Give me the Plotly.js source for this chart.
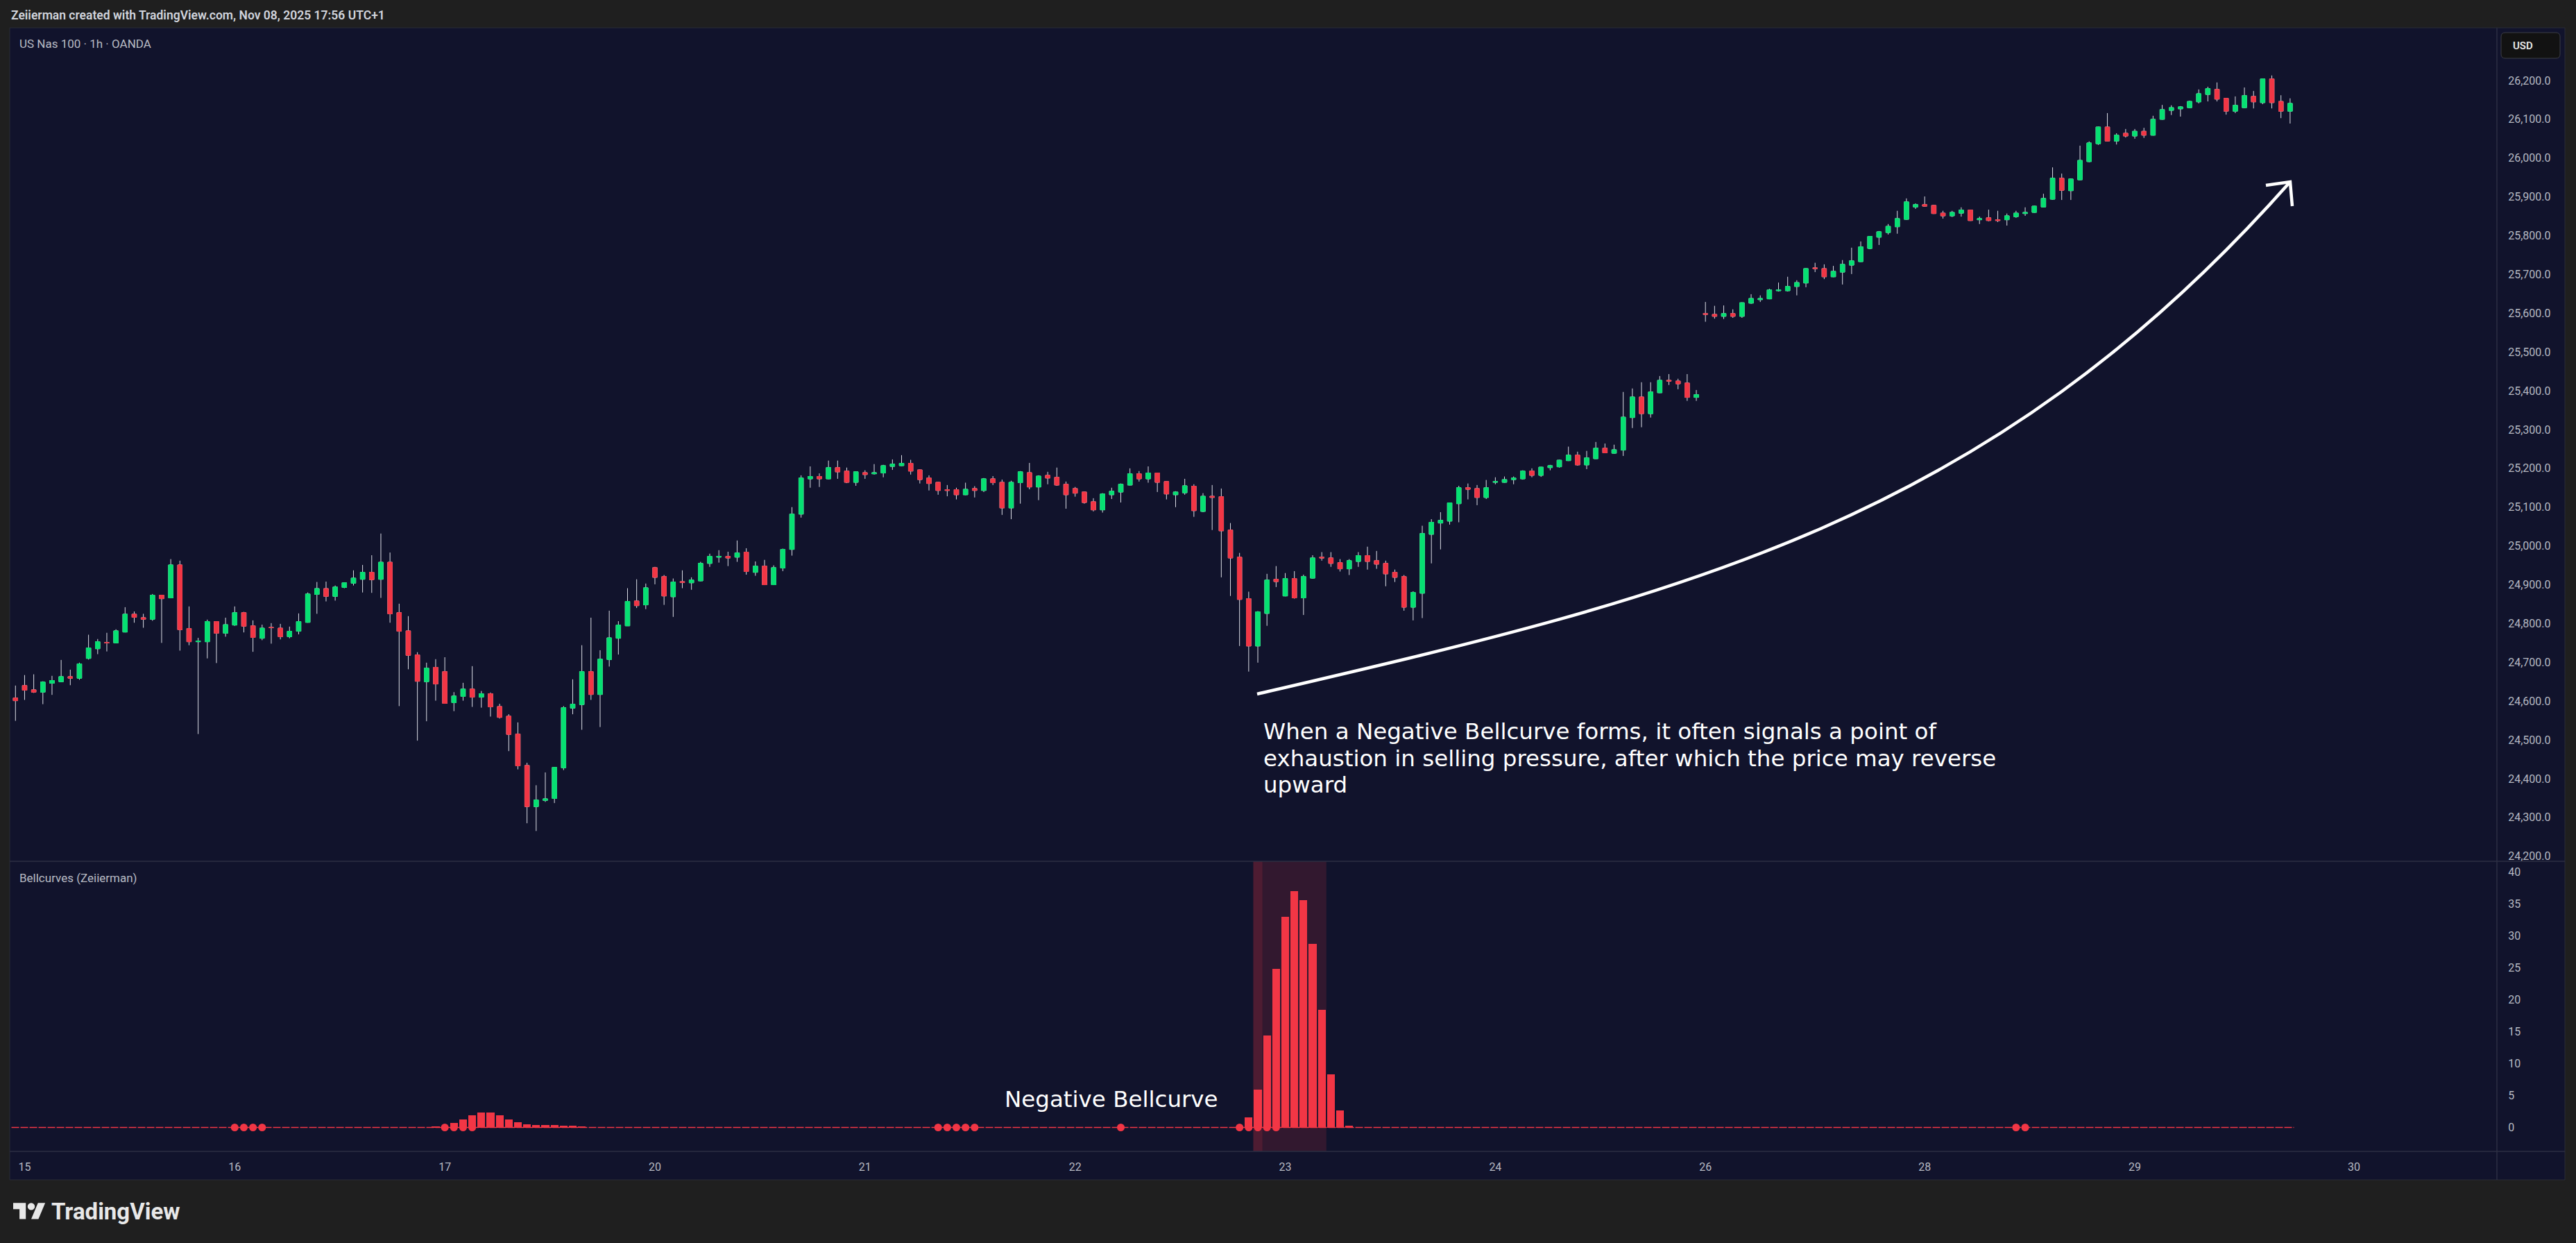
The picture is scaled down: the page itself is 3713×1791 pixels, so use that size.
<!DOCTYPE html>
<html>
<head>
<meta charset="utf-8">
<script src="https://cdn.plot.ly/plotly-3.0.1.min.js"></script>
<style>
html,body{margin:0;padding:0;background:#1f1f1f;}
#chart{width:3713px;height:1791px;}
</style>
</head>
<body>
<div id="chart"></div>
<script>
// ---------------- DATA ----------------
// US Nas 100, 1h candles, index 0..249
const openP = [
24608,24640,24629,24623,24646,24650,24663,24659,24710,24735,
24751,24750,24778,24824,24815,24811,24873,24866,24951,24787,
24753,24753,24805,24775,24796,24828,24794,24762,24790,24788,
24766,24780,24803,24875,24890,24870,24893,24904,24914,24932,
24914,24958,24828,24781,24719,24650,24687,24676,24596,24612,
24631,24610,24619,24586,24561,24515,24434,24328,24344,24349,
24428,24582,24591,24676,24617,24707,24762,24794,24858,24848,
24944,24921,24869,24908,24905,24910,24955,24971,24973,24971,
24984,24932,24948,24900,24943,24991,25082,25173,25179,25173,
25202,25193,25164,25189,25186,25188,25205,25207,25213,25196,
25175,25164,25145,25145,25132,25148,25143,25173,25164,25098,
25163,25189,25152,25182,25177,25159,25148,25139,25114,25093,
25132,25139,25157,25186,25173,25188,25166,25132,25137,25154,
25089,25128,25127,25041,24971,24864,24742,24826,24914,24871,
24916,24866,24917,24971,24969,24957,24941,24960,24975,24962,
24955,24932,24921,24842,24878,25030,25059,25064,25109,25150,
25148,25125,25164,25164,25171,25173,25193,25182,25202,25204,
25220,25234,25209,25225,25252,25239,25247,25331,25384,25341,
25395,25427,25425,25420,25383,25599,25597,25592,25599,25592,
25626,25635,25637,25658,25658,25669,25678,25717,25715,25694,
25706,25724,25733,25767,25796,25808,25823,25842,25874,25880,
25878,25858,25851,25858,25866,25841,25846,25841,25841,25849,
25857,25860,25874,25894,25948,25916,25944,25991,26037,26080,
26044,26064,26057,26069,26059,26100,26123,26127,26130,26145,
26164,26177,26154,26121,26130,26159,26143,26204,26146,26121
];
const highP = [
24640,24667,24669,24651,24665,24706,24681,24699,24771,24760,
24776,24785,24842,24831,24825,24876,24874,24966,24962,24844,
24763,24810,24806,24815,24844,24830,24808,24797,24801,24799,
24792,24826,24880,24907,24908,24898,24906,24937,24951,24976,
25032,24983,24851,24819,24726,24699,24708,24713,24623,24647,
24690,24626,24622,24593,24566,24545,24441,24383,24416,24430,
24587,24656,24744,24815,24731,24833,24806,24891,24914,24903,
24946,24925,24916,24937,24919,24959,24980,24989,24985,25014,
24994,24960,24964,24950,24993,25100,25182,25205,25187,25220,
25220,25202,25192,25195,25211,25209,25223,25234,25222,25197,
25182,25165,25157,25150,25163,25154,25175,25180,25171,25168,
25193,25214,25182,25191,25202,25166,25152,25140,25123,25136,
25150,25161,25200,25193,25205,25189,25167,25141,25173,25159,
25136,25157,25148,25059,24982,24882,24832,24928,24948,24930,
24935,24926,24976,24984,24984,24966,24966,24984,24998,24987,
24962,24939,24925,24883,25052,25069,25087,25112,25155,25161,
25157,25170,25177,25179,25179,25195,25200,25204,25209,25222,
25256,25243,25245,25268,25264,25261,25397,25406,25422,25422,
25438,25443,25431,25443,25402,25629,25619,25620,25610,25628,
25649,25646,25663,25679,25694,25685,25716,25730,25726,25722,
25737,25769,25785,25799,25812,25830,25864,25896,25883,25901,
25879,25864,25864,25873,25867,25849,25867,25864,25857,25864,
25873,25877,25908,25976,25960,25947,26032,26043,26081,26116,
26064,26075,26075,26078,26109,26137,26136,26134,26148,26177,
26184,26195,26155,26159,26182,26173,26205,26213,26162,26154
];
const lowP = [
24549,24603,24621,24592,24616,24649,24641,24655,24707,24721,
24728,24749,24777,24802,24789,24807,24750,24865,24730,24744,
24515,24710,24698,24766,24794,24777,24727,24757,24748,24759,
24762,24772,24802,24825,24857,24859,24891,24898,24880,24879,
24866,24802,24587,24682,24498,24548,24601,24593,24574,24601,
24585,24583,24560,24555,24471,24424,24285,24265,24340,24337,
24422,24566,24526,24603,24533,24689,24720,24794,24840,24837,
24901,24848,24817,24891,24887,24909,24946,24957,24948,24959,
24926,24923,24899,24899,24935,24975,25073,25150,25152,25172,
25173,25162,25155,25173,25184,25177,25196,25206,25184,25161,
25143,25132,25128,25120,25131,25125,25139,25157,25080,25069,
25109,25146,25118,25159,25155,25096,25127,25109,25089,25086,
25121,25112,25156,25166,25163,25139,25120,25100,25132,25075,
25087,25041,24919,24871,24742,24676,24699,24794,24894,24870,
24864,24822,24916,24962,24946,24934,24925,24946,24939,24941,
24896,24907,24833,24808,24814,24955,24991,25055,25061,25120,
25105,25121,25159,25163,25159,25171,25177,25178,25195,25202,
25219,25207,25198,25224,25239,25238,25232,25304,25306,25331,
25394,25415,25404,25374,25374,25578,25586,25585,25588,25588,
25624,25629,25636,25656,25656,25646,25667,25706,25688,25693,
25674,25701,25732,25765,25776,25803,25805,25841,25869,25875,
25856,25844,25848,25849,25838,25830,25837,25835,25826,25846,
25851,25859,25873,25893,25892,25892,25943,25989,26034,26043,
26035,26053,26050,26052,26058,26099,26111,26107,26129,26141,
26146,26146,26112,26116,26129,26128,26139,26128,26103,26089
];
const closeP = [
24601,24628,24623,24649,24653,24663,24659,24696,24737,24753,
24750,24781,24824,24816,24811,24873,24864,24951,24784,24753,
24755,24805,24775,24797,24828,24793,24764,24788,24789,24766,
24780,24805,24876,24890,24870,24894,24905,24917,24932,24913,
24958,24825,24780,24718,24651,24685,24644,24594,24613,24631,
24610,24619,24585,24558,24514,24433,24328,24345,24348,24429,
24583,24592,24676,24617,24708,24763,24796,24857,24846,24892,
24919,24871,24907,24906,24912,24955,24973,24973,24969,24982,
24934,24948,24900,24944,24991,25082,25175,25179,25173,25202,
25191,25164,25191,25184,25189,25207,25211,25213,25193,25171,
25161,25143,25143,25132,25146,25143,25173,25163,25098,25164,
25191,25152,25180,25175,25157,25132,25136,25112,25093,25134,
25141,25159,25186,25173,25188,25164,25134,25139,25155,25091,
25128,25125,25039,24969,24862,24742,24830,24912,24908,24916,
24866,24921,24969,24969,24955,24941,24962,24975,24960,24953,
24928,24919,24842,24880,25032,25061,25066,25111,25150,25146,
25125,25150,25166,25171,25175,25193,25182,25203,25207,25221,
25234,25209,25227,25252,25240,25248,25332,25384,25341,25397,
25427,25425,25418,25383,25390,25597,25592,25599,25592,25627,
25638,25638,25660,25660,25669,25679,25715,25715,25694,25708,
25726,25735,25771,25798,25810,25824,25844,25887,25880,25876,
25857,25851,25860,25866,25839,25844,25839,25839,25851,25858,
25860,25876,25896,25948,25917,25946,25994,26039,26080,26044,
26059,26057,26069,26059,26100,26125,26130,26132,26146,26166,
26179,26152,26121,26136,26161,26145,26204,26143,26121,26141
];

// day labels of the time axis (bar index where each day starts)
const dayTickIndex = [1, 24, 47, 70, 93, 116, 139, 162, 185, 209, 232, 256];
const dayTickLabel = ["15", "16", "17", "20", "21", "22", "23", "24", "26", "28", "29", "30"];

// price-axis labels
const priceTickValues = [24200,24300,24400,24500,24600,24700,24800,24900,25000,25100,25200,
                         25300,25400,25500,25600,25700,25800,25900,26000,26100,26200];

// Bellcurves (Zeiierman) histogram: bar index and value
const bellIndex = [46,48,49,50,51,52,53,54,55,56,57,58,59,60,61,62,
                   135,136,137,138,139,140,141,142,143,144,145,146];
const bellValue = [0.13,0.67,1.22,1.9,2.34,2.34,1.9,1.24,0.8,0.47,0.36,0.36,0.36,0.25,0.25,0.14,
                   1.58,5.9,14.4,24.8,33.0,37.0,35.6,28.75,18.4,8.3,2.66,0.27];
// signal dots on the zero line
const signalDotIndex = [24,25,26,27,47,48,49,50,101,102,103,104,105,121,134,135,136,137,138,219,220];
// highlighted background bars in the indicator pane
const zoneIndex = [136,137,138,139,140,141,142,143];
const zoneStrongIndex = [136];

// callout text
const calloutLines = [
  'When a Negative Bellcurve forms, it often signals a point of',
  'exhaustion in selling pressure, after which the price may reverse',
  'upward'
];

// ---------------- STYLE / LAYOUT ----------------
const W = 3713, H = 1791;
const M = {l: 15, r: 114, t: 41, b: 132};
const plotW = W - M.l - M.r;
const plotH = H - M.t - M.b;
const splitPx = 1241;
const xr = [-0.554, 271.64];
const yr = [24186.9, 26334.2];
const y2r = [-3.75, 41.68];
const yDomSplit = (H - M.b - splitPx) / plotH;

const PX = px => (px - M.l) / plotW;
const PY = py => (H - M.b - py) / plotH;
const DX = px => xr[0] + (px - M.l) / plotW * (xr[1] - xr[0]);
const DY = py => yr[0] + (splitPx - py) / (splitPx - M.t) * (yr[1] - yr[0]);
const DY2 = py => y2r[0] + (H - M.b - py) / (H - M.b - splitPx) * (y2r[1] - y2r[0]);

const NAVY = '#11132c';
const OUTER = '#1f1f1f';
const LINE = '#2c2f43';
const UP = '#06e072';
const DOWN = '#f23645';
const WICK = '#dcdee6';
const AXIS_TXT = '#b6b9c2';
const FONT = 'Roboto, "Open Sans", sans-serif';
const NOTE_FONT = '"DejaVu Sans", "Liberation Sans", sans-serif';
const NOTE_SIZE = 32.5;
const NOTE_TOP = 1054, NOTE_GAP = 38.5;   // px centre of first callout line, px between lines

const barIndex = openP.map((_, i) => i);

const traces = [
  { // wicks (white)
    type: 'candlestick', x: barIndex, open: openP, high: highP, low: lowP, close: closeP,
    xaxis: 'x', yaxis: 'y', whiskerwidth: 0, hoverinfo: 'skip', showlegend: false,
    increasing: {line: {color: WICK, width: 1}, fillcolor: WICK},
    decreasing: {line: {color: WICK, width: 1}, fillcolor: WICK}
  },
  { // bodies (coloured)
    type: 'candlestick', x: barIndex, open: openP, close: closeP,
    high: openP.map((o, i) => Math.max(o, closeP[i])),
    low: openP.map((o, i) => Math.min(o, closeP[i])),
    xaxis: 'x', yaxis: 'y', whiskerwidth: 0, hoverinfo: 'skip', showlegend: false,
    increasing: {line: {color: UP, width: 1}, fillcolor: UP},
    decreasing: {line: {color: DOWN, width: 1}, fillcolor: DOWN}
  },
  { // zero-level histogram marks
    type: 'scatter', mode: 'lines', x: [-1.425, barIndex.length - 1 + 0.425], y: [0, 0],
    xaxis: 'x', yaxis: 'y2', hoverinfo: 'skip', showlegend: false,
    line: {color: DOWN, width: 1.5, dash: '11px,2px'}
  },
  { // bellcurve histogram
    type: 'bar', x: bellIndex, y: bellValue, width: 0.85, xaxis: 'x', yaxis: 'y2',
    marker: {color: DOWN, line: {width: 0}}, hoverinfo: 'skip', showlegend: false
  },
  { // signal dots
    type: 'scatter', mode: 'markers', x: signalDotIndex, y: signalDotIndex.map(() => 0),
    xaxis: 'x', yaxis: 'y2', hoverinfo: 'skip', showlegend: false,
    marker: {color: DOWN, size: 11, line: {width: 0}}
  }
];

// contiguous runs of background-highlighted bars
function runs(arr) {
  const out = []; let s = arr[0], p = arr[0];
  for (let k = 1; k <= arr.length; k++) {
    if (k < arr.length && arr[k] === p + 1) { p = arr[k]; continue; }
    out.push([s, p]); if (k < arr.length) { s = arr[k]; p = arr[k]; }
  }
  return out;
}

const shapes = [];
// chart panel
shapes.push({type: 'rect', xref: 'paper', yref: 'paper', x0: PX(14), x1: PX(3697), y0: PY(1700), y1: PY(40),
  fillcolor: NAVY, line: {color: '#2a2c36', width: 1}, layer: 'below'});
// highlighted zone
[...runs(zoneIndex), ...runs(zoneStrongIndex)].forEach(([a, b]) => {
  shapes.push({type: 'rect', xref: 'x', yref: 'y2 domain', x0: a - 0.5, x1: b + 0.5, y0: 0, y1: 1,
    fillcolor: 'rgba(242,54,69,0.15)', line: {width: 0}, layer: 'below'});
});
// separators
shapes.push({type: 'line', xref: 'paper', yref: 'paper', x0: PX(14), x1: PX(3697), y0: PY(splitPx), y1: PY(splitPx), line: {color: LINE, width: 1.5}});
shapes.push({type: 'line', xref: 'paper', yref: 'paper', x0: PX(14), x1: PX(3697), y0: PY(1659), y1: PY(1659), line: {color: LINE, width: 1.5}});
shapes.push({type: 'line', xref: 'paper', yref: 'paper', x0: PX(3599), x1: PX(3599), y0: PY(1700), y1: PY(40), line: {color: LINE, width: 1.5}});
// USD box
(function () {
  const x0 = 3605, x1 = 3690, y0 = 47, y1 = 84, r = 6;
  const p = (x, y) => `${PX(x)},${PY(y)}`;
  const d = `M${p(x0 + r, y0)} L${p(x1 - r, y0)} Q${p(x1, y0)} ${p(x1, y0 + r)} L${p(x1, y1 - r)} Q${p(x1, y1)} ${p(x1 - r, y1)} ` +
            `L${p(x0 + r, y1)} Q${p(x0, y1)} ${p(x0, y1 - r)} L${p(x0, y0 + r)} Q${p(x0, y0)} ${p(x0 + r, y0)} Z`;
  shapes.push({type: 'path', xref: 'paper', yref: 'paper', path: d, fillcolor: '#121212', line: {color: '#3d3f47', width: 1}});
})();
// hand-drawn arrow
(function () {
  const q = (x, y) => `${DX(x)},${DY(y)}`;
  shapes.push({type: 'path', xref: 'x', yref: 'y',
    path: `M${q(1812, 1000)} C${q(2412, 860)} ${q(2860, 760)} ${q(3301, 262)}`,
    line: {color: '#ffffff', width: 4.5}, fillcolor: 'rgba(0,0,0,0)'});
  shapes.push({type: 'path', xref: 'x', yref: 'y',
    path: `M${q(3266, 267)} L${q(3301, 262)} L${q(3304, 297)}`,
    line: {color: '#ffffff', width: 4.5}, fillcolor: 'rgba(0,0,0,0)'});
})();
// TradingView logo
(function () {
  const s = 1.3, ox = 19, oy = 1728;
  const p = (x, y) => `${PX(ox + x * s)},${PY(oy + y * s)}`;
  shapes.push({type: 'path', xref: 'paper', yref: 'paper',
    path: `M${p(0, 4)} L${p(14, 4)} L${p(14, 22)} L${p(7, 22)} L${p(7, 11)} L${p(0, 11)} Z`,
    fillcolor: '#e8e8e8', line: {width: 0}});
  shapes.push({type: 'circle', xref: 'paper', yref: 'paper',
    x0: PX(ox + 16 * s), x1: PX(ox + 24 * s), y0: PY(oy + 12 * s), y1: PY(oy + 4 * s),
    fillcolor: '#e8e8e8', line: {width: 0}});
  shapes.push({type: 'path', xref: 'paper', yref: 'paper',
    path: `M${p(28, 22)} L${p(20, 22)} L${p(27.5, 4)} L${p(35.5, 4)} Z`,
    fillcolor: '#e8e8e8', line: {width: 0}});
})();

const ann = (o) => Object.assign({showarrow: false, xanchor: 'left', yanchor: 'middle'}, o);
const annotations = [
  ann({xref: 'paper', yref: 'paper', x: PX(14), y: PY(22),
       text: 'Zeiierman created with TradingView.com, Nov 08, 2025 17:56 UTC+1',
       font: {family: FONT, size: 17.5, color: '#d1d4dc', weight: 600}}),
  ann({xref: 'paper', yref: 'paper', x: PX(26), y: PY(63),
       text: 'US Nas 100 \u00b7 1h \u00b7 OANDA', font: {family: FONT, size: 17, color: '#b8bbc4'}}),
  ann({xref: 'paper', yref: 'paper', x: PX(26), y: PY(1265),
       text: 'Bellcurves (Zeiierman)', font: {family: FONT, size: 17, color: '#b8bbc4'}}),
  ann({xref: 'paper', yref: 'paper', x: PX(3620), y: PY(66),
       text: 'USD', font: {family: FONT, size: 15, color: '#e6e6e6', weight: 600}}),
  ...calloutLines.map((t, k) => ann({xref: 'x', yref: 'y', x: DX(1820), y: DY(NOTE_TOP + k * NOTE_GAP),
       borderpad: 0, text: t, font: {family: NOTE_FONT, size: NOTE_SIZE, color: '#ffffff'}})),
  ann({xref: 'x', yref: 'y2', x: DX(1602), y: DY2(1584), xanchor: 'center', borderpad: 0,
       text: 'Negative Bellcurve', font: {family: NOTE_FONT, size: NOTE_SIZE, color: '#ffffff'}}),
  ann({xref: 'paper', yref: 'paper', x: PX(72), y: PY(1745),
       text: 'TradingView', font: {family: FONT, size: 33, color: '#e8e8e8', weight: 700}})
];

const axisBase = {showgrid: false, zeroline: false, showline: false, fixedrange: true,
  ticks: 'outside', tickcolor: 'rgba(0,0,0,0)', tickfont: {family: FONT, size: 16, color: AXIS_TXT}};

const layout = {
  width: W, height: H, margin: M,
  paper_bgcolor: OUTER, plot_bgcolor: NAVY,
  font: {family: FONT, color: AXIS_TXT},
  showlegend: false, boxgap: 0.3, boxmode: 'overlay', bargap: 0,
  xaxis: Object.assign({}, axisBase, {domain: [0, 1], range: xr, anchor: 'y2',
    tickmode: 'array', tickvals: dayTickIndex, ticktext: dayTickLabel, ticklen: 8,
    rangeslider: {visible: false}}),
  yaxis: Object.assign({}, axisBase, {domain: [yDomSplit, 1], range: yr, side: 'right', anchor: 'x',
    tickmode: 'array', tickvals: priceTickValues, tickformat: ',.1f', ticklen: 12}),
  yaxis2: Object.assign({}, axisBase, {domain: [0, yDomSplit], range: y2r, side: 'right', anchor: 'x',
    tick0: 0, dtick: 5, ticklen: 12}),
  shapes: shapes,
  annotations: annotations
};

Plotly.newPlot('chart', traces, layout, {staticPlot: true, displayModeBar: false});
</script>
</body>
</html>
